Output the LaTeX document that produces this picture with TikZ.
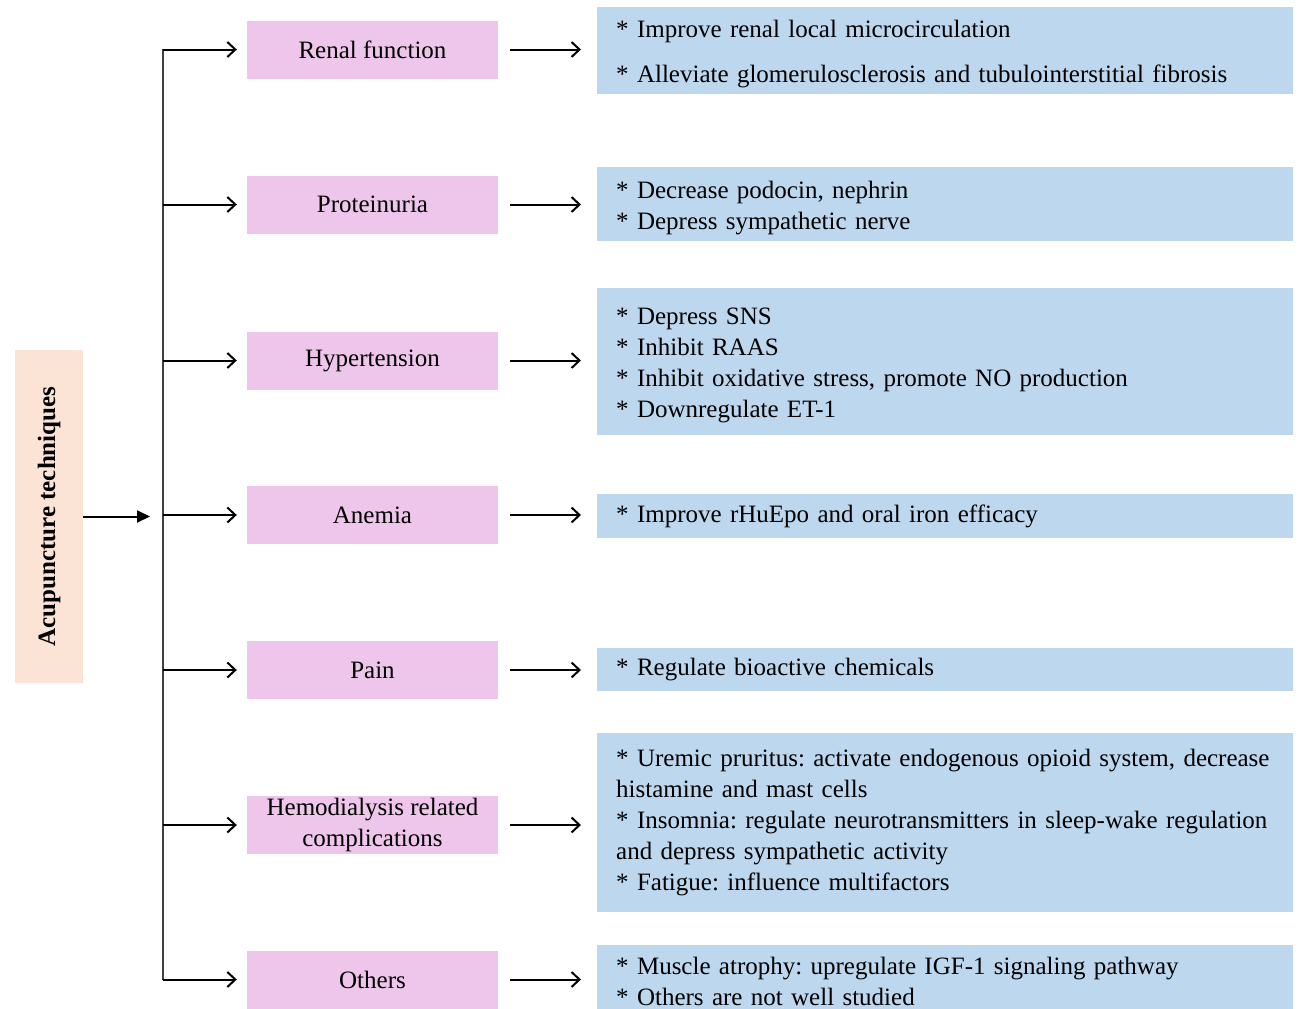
\documentclass[tikz,border=0pt]{standalone}
\usepackage{fontspec}
\setmainfont{Liberation Serif}
\usetikzlibrary{arrows.meta,positioning}
\definecolor{peach}{HTML}{FBE4D5}
\definecolor{pinkbox}{HTML}{EFC6EB}
\definecolor{bluebox}{HTML}{BDD7EE}
\tikzset{
  src/.style ={fill=peach,inner sep=0pt,minimum width=68pt,minimum height=333pt},
  cat/.style ={fill=pinkbox,inner sep=2pt,minimum width=251pt,minimum height=58pt,align=center,
               font=\fontsize{25}{31}\selectfont},
  eff/.style ={fill=bluebox,anchor=west,inner xsep=19pt,inner ysep=0pt,text width=658pt,align=left,
               font=\fontsize{25}{31}\selectfont},
  low/.style ={execute at begin node={\rule{0pt}{25pt}}},
  br/.style  ={-{Straight Barb[length=8pt,width=15pt,line width=2pt]},line width=2pt},
}
\frenchspacing
\begin{document}
\begin{tikzpicture}[x=1pt,y=-1pt]
\useasboundingbox (0,0) rectangle (1299,1009);

% -------- source --------
\node[src] (src) at (49,516.5) {};
\node[rotate=90,font=\fontsize{25}{30}\selectfont\bfseries] (srclab) at (src.center) {Acupuncture techniques};

% -------- categories --------
\node[cat] (renal)  at (372.5,49.5)  {Renal function};
\node[cat] (prot)   at (372.5,204.5) {Proteinuria};
\node[cat] (hyper)  at (372.5,360.5) {Hypertension};
\node[cat] (anemia) at (372.5,515)   {Anemia};
\node[cat] (pain)   at (372.5,670)   {Pain};
\node[cat,low] (hemo) at (372.5,825) {Hemodialysis related\\complications};
\node[cat] (other)  at (372.5,979.5) {Others};

% -------- effects --------
\node[eff,low,minimum height=87pt]  (erenal)  at (597,50.5)  {{*} Improve renal local microcirculation\\[14pt]
  {*} Alleviate glomerulosclerosis and tubulointerstitial fibrosis};
\node[eff,low,minimum height=74pt]  (eprot)   at (597,204)   {{*} Decrease podocin, nephrin\\
  {*} Depress sympathetic nerve};
\node[eff,low,minimum height=147pt] (ehyper)  at (597,361.5) {{*} Depress SNS\\
  {*} Inhibit RAAS\\
  {*} Inhibit oxidative stress, promote NO production\\
  {*} Downregulate ET-1};
\node[eff,minimum height=44pt]  (eanemia) at (597,516)   {{*} Improve rHuEpo and oral iron efficacy};
\node[eff,minimum height=43pt]  (epain)   at (597,669.5) {{*} Regulate bioactive chemicals};
\node[eff,minimum height=179pt] (ehemo)   at (597,822.5) {{*} Uremic pruritus: activate endogenous opioid system, decrease\\
  histamine and mast cells\\
  {*} Insomnia: regulate neurotransmitters in sleep-wake regulation\\
  and depress sympathetic activity\\
  {*} Fatigue: influence multifactors};
\node[eff,minimum height=72pt]  (eother)  at (597,981)   {{*} Muscle atrophy: upregulate IGF-1 signaling pathway\\
  {*} Others are not well studied};

% -------- trunk --------
\coordinate (top) at (163,49);
\coordinate (bot) at (163,980);
\draw[line width=1.5pt,black!75] (top) -- (bot);
\draw[-{Triangle[length=13pt,width=12pt]},line width=2pt,shorten >=13pt] (src.east) -- (src.east -| top);

% wiring: trunk -> categories -> effects
\foreach \n in {renal,prot,hyper,anemia,pain,hemo,other}
  \draw[br,shorten >=10pt] (top |- \n) -- (\n.west);
\foreach \n in {renal,prot,hyper,anemia,pain,hemo,other}
  \draw[br,shorten <=12pt,shorten >=16pt] (\n.east) -- (\n.east -| e\n.west);

\end{tikzpicture}
\end{document}
